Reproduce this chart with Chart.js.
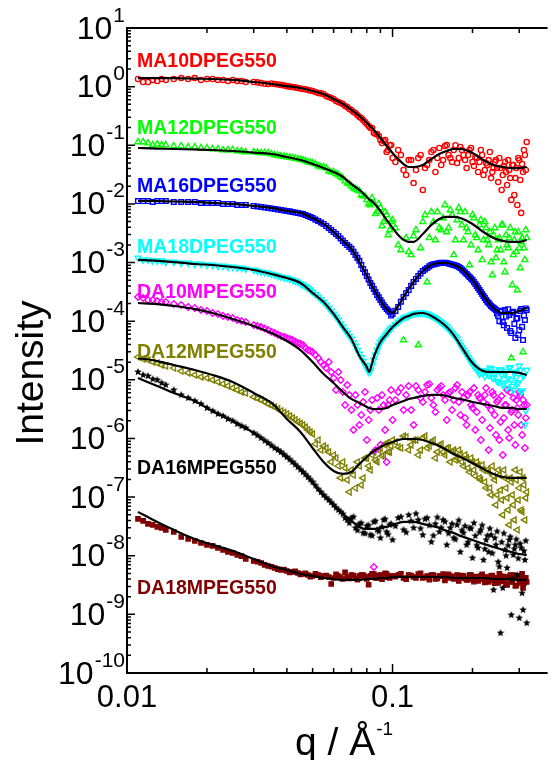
<!DOCTYPE html>
<html>
<head>
<meta charset="utf-8">
<script src="https://cdn.jsdelivr.net/npm/chart.js@4.4.0/dist/chart.umd.min.js"></script>
<style>
  html, body { margin: 0; padding: 0; background: #fff; overflow: hidden; }
  canvas { display: block; }
</style>
</head>
<body>
<canvas id="saxs" width="551" height="760"></canvas>
<script>
// q of the measured points (1/A), first pass
let qData = [0.011, 0.0115, 0.012, 0.0125, 0.013, 0.0135, 0.014, 0.015, 0.016, 0.017, 0.018, 0.019, 0.020, 0.021, 0.022, 0.023, 0.024, 0.025, 0.026, 0.027, 0.028, 0.030, 0.032, 0.034, 0.036, 0.038, 0.040, 0.042, 0.044, 0.046, 0.048, 0.050,
  0.0525, 0.055, 0.0575, 0.060, 0.0625, 0.065, 0.0675, 0.070, 0.0725, 0.075, 0.0775, 0.080, 0.0825, 0.085, 0.0875, 0.090, 0.0925, 0.095, 0.0975, 0.100,
  0.105, 0.110, 0.115, 0.120, 0.125, 0.130, 0.135, 0.140, 0.145, 0.150, 0.155, 0.160, 0.165, 0.170, 0.175, 0.180, 0.185, 0.190, 0.195, 0.200, 0.205, 0.210,
  0.215, 0.220, 0.225, 0.230, 0.235, 0.240, 0.245, 0.250, 0.255, 0.260, 0.265, 0.270, 0.275, 0.280, 0.285, 0.290, 0.295, 0.300, 0.305, 0.310, 0.315, 0.320];

// q of the points in between (dense part of the curves)
let qData2 = [0.031, 0.033, 0.035, 0.037, 0.039, 0.041, 0.043, 0.045, 0.047, 0.049,
  0.05125, 0.05375, 0.05625, 0.05875, 0.06125, 0.06375, 0.06625, 0.06875, 0.07125, 0.07375, 0.07625, 0.07875, 0.08125, 0.08375, 0.08625, 0.08875, 0.09125, 0.09375, 0.09625, 0.09875,
  0.1025, 0.1075, 0.1125, 0.1175, 0.1225, 0.1275, 0.1325, 0.1375, 0.1425, 0.1475, 0.1525, 0.1575, 0.1625, 0.1675, 0.1725, 0.1775, 0.1825, 0.1875, 0.1925, 0.1975, 0.2025, 0.2075,
  0.2125, 0.2175, 0.2225, 0.2275, 0.2325, 0.2375, 0.2425, 0.2475, 0.2525, 0.2575, 0.2625, 0.2675, 0.2725, 0.2775, 0.2825, 0.2875, 0.2925, 0.2975, 0.3025, 0.3075, 0.3125, 0.3175];

// q of the fitted curves
let qFit = [0.011, 0.013, 0.015, 0.018, 0.021, 0.025, 0.030, 0.035, 0.040, 0.045, 0.050, 0.055, 0.060, 0.065, 0.070, 0.075, 0.080, 0.0815, 0.085, 0.090,
  0.095, 0.100, 0.105, 0.110, 0.115, 0.120, 0.130, 0.140, 0.150, 0.160, 0.170, 0.180, 0.200, 0.220, 0.240, 0.260, 0.280, 0.300, 0.320];

let seriesNames = ['MA10DPEG550', 'MA12DPEG550', 'MA16DPEG550', 'MA18DPEG550', 'DA10MPEG550', 'DA12MPEG550', 'DA16MPEG550', 'DA18MPEG550'];

// measured intensities on qData
let ma10Data = [1.35, 1.20, 1.20, 1.30, 1.25, 1.35, 1.30, 1.35, 1.40, 1.35, 1.40, 1.30, 1.35, 1.35, 1.30, 1.30, 1.25, 1.30, 1.25, 1.25, 1.20, 1.20, 1.15, 1.11, 1.11, 1.07, 1.02, 0.986, 0.948, 0.912, 0.877, 0.843,
  0.780, 0.749, 0.665, 0.616, 0.548, 0.506, 0.450, 0.400, 0.355, 0.304, 0.270, 0.231, 0.197, 0.162, 0.156, 0.123, 0.118, 0.0768, 0.101, 0.0607,
  0.0830, 0.0379, 0.0560, 0.0227, 0.0607, 0.0173, 0.0461, 0.0768, 0.0350, 0.0898, 0.0560, 0.101, 0.0607, 0.0830, 0.0498, 0.0934, 0.0683, 0.0409, 0.0830, 0.0518, 0.0631, 0.0350,
  0.0830, 0.0311, 0.0498, 0.0560, 0.0276, 0.0409, 0.0560, 0.0236, 0.0409, 0.0311, 0.0518, 0.0210, 0.0379, 0.0117, 0.0461, 0.0276, 0.00960, 0.0560, 0.00702, 0.0350, 0.0683, 0.114];
let ma12Data = [0.114, 0.114, 0.109, 0.101, 0.105, 0.101, 0.101, 0.0971, 0.0971, 0.0934, 0.0934, 0.0898, 0.0898, 0.0863, 0.0863, 0.0830, 0.0830, 0.0830, 0.0798, 0.0798, 0.0768, 0.0768, 0.0739, 0.0739, 0.0683, 0.0656, 0.0631, 0.0607, 0.0583, 0.0560, 0.0518, 0.0498,
  0.0443, 0.0426, 0.0364, 0.0350, 0.0311, 0.0276, 0.0227, 0.0202, 0.0180, 0.0166, 0.0136, 0.0117, 0.00960, 0.0104, 0.00730, 0.00853, 0.00493, 0.00648, 0.00360, 0.00532,
  0.00199, 4.77e-5, 0.00152, 0.00284, 3.92e-5, 0.00493, 4.66e-4, 0.00730, 0.00243, 0.00389, 0.00576, 0.00332, 0.00787, 0.00135, 0.00532, 0.00730, 0.00243, 0.00389, 9.09e-4, 0.00648, 0.00295, 0.00164,
  0.00532, 0.00243, 0.00389, 0.00199, 0.00102, 0.00295, 0.00120, 0.00243, 0.00164, 0.00438, 6.90e-4, 0.00199, 0.00263, 2.35e-5, 0.00135, 0.00332, 3.40e-4, 0.00177, 0.00225, 2.98e-5, 0.00111, 0.00263];
let ma16Data = [0.0112, 0.0112, 0.0112, 0.0108, 0.0112, 0.0112, 0.0112, 0.0108, 0.0108, 0.0108, 0.0108, 0.0104, 0.0104, 0.0104, 0.0104, 0.00998, 0.00998, 0.00998, 0.00960, 0.00960, 0.00960, 0.00923, 0.00888, 0.00853, 0.00821, 0.00787, 0.00759, 0.00730, 0.00702, 0.00675, 0.00623, 0.00576,
  0.00512, 0.00455, 0.00389, 0.00332, 0.00284, 0.00234, 0.00199, 0.00171, 0.00135, 0.00107, 7.77e-4, 5.90e-4, 4.48e-4, 3.54e-4, 2.80e-4, 2.30e-4, 1.89e-4, 1.61e-4, 1.44e-4, 1.33e-4,
  1.75e-4, 2.59e-4, 3.40e-4, 4.66e-4, 5.90e-4, 7.18e-4, 8.07e-4, 9.09e-4, 9.44e-4, 9.83e-4, 9.83e-4, 9.83e-4, 9.44e-4, 9.09e-4, 8.72e-4, 8.07e-4, 7.18e-4, 6.38e-4, 5.68e-4, 5.04e-4, 4.31e-4, 3.68e-4,
  3.15e-4, 2.69e-4, 2.30e-4, 2.04e-4, 1.82e-4, 1.68e-4, 1.55e-4, 1.23e-4, 1.44e-4, 9.67e-5, 1.55e-4, 7.66e-5, 1.28e-4, 6.28e-5, 1.44e-4, 5.17e-5, 1.13e-4, 7.06e-5, 1.61e-4, 4.77e-5, 1.05e-4, 1.55e-4];
let ma18Data = [1.20e-3, 1.11e-3, 1.11e-3, 1.07e-3, 1.07e-3, 1.07e-3, 1.02e-3, 1.02e-3, 9.83e-4, 9.83e-4, 9.44e-4, 9.44e-4, 9.09e-4, 9.09e-4, 8.72e-4, 8.72e-4, 8.40e-4, 8.40e-4, 8.07e-4, 8.07e-4, 7.77e-4, 7.46e-4, 6.90e-4, 6.64e-4, 6.14e-4, 5.68e-4, 5.45e-4, 5.04e-4, 4.66e-4, 4.14e-4, 3.68e-4, 3.15e-4,
  2.59e-4, 2.13e-4, 1.68e-4, 1.33e-4, 1.05e-4, 7.95e-5, 6.28e-5, 4.96e-5, 3.77e-5, 2.76e-5, 2.09e-5, 1.59e-5, 1.41e-5, 2.18e-5, 3.22e-5, 4.41e-5, 5.17e-5, 6.04e-5, 7.06e-5, 7.95e-5,
  9.67e-5, 1.13e-4, 1.23e-4, 1.33e-4, 1.38e-4, 1.38e-4, 1.33e-4, 1.23e-4, 1.13e-4, 1.01e-4, 8.97e-5, 7.95e-5, 6.79e-5, 5.80e-5, 4.96e-5, 3.92e-5, 3.22e-5, 2.65e-5, 2.18e-5, 1.86e-5, 1.59e-5, 1.41e-5,
  1.36e-5, 1.31e-5, 1.41e-5, 1.21e-5, 1.53e-5, 1.07e-5, 1.36e-5, 9.19e-6, 1.47e-5, 8.17e-6, 1.26e-5, 7.26e-6, 1.59e-5, 9.95e-6, 6.71e-6, 1.36e-5, 8.50e-6, 1.72e-5, 6.21e-6, 1.16e-5, 1.70e-6, 1.47e-5];
let da10Data = [2.59e-4, 2.49e-4, 2.30e-4, 2.30e-4, 2.21e-4, 2.13e-4, 2.13e-4, 1.96e-4, 1.89e-4, 1.75e-4, 1.68e-4, 1.55e-4, 1.49e-4, 1.38e-4, 1.33e-4, 1.23e-4, 1.18e-4, 1.13e-4, 1.05e-4, 1.01e-4, 9.67e-5, 8.62e-5, 7.95e-5, 7.06e-5, 6.28e-5, 5.58e-5, 5.17e-5, 4.77e-5, 4.24e-5, 3.92e-5, 3.22e-5, 2.98e-5,
  2.35e-5, 1.79e-5, 2.01e-5, 1.07e-5, 1.36e-5, 6.21e-6, 8.17e-6, 3.06e-6, 5.52e-6, 1.70e-6, 4.19e-6, 9.41e-7, 3.06e-6, 6.43e-9, 4.90e-6, 7.76e-7, 3.73e-6, 3.97e-7, 4.54e-6, 2.07e-6,
  6.21e-6, 3.06e-6, 7.86e-6, 1.70e-6, 6.71e-6, 4.19e-6, 8.17e-6, 4.90e-6, 2.83e-6, 7.26e-6, 5.52e-6, 2.07e-6, 6.21e-6, 4.54e-6, 8.17e-6, 2.52e-6, 4.90e-6, 1.70e-6, 6.21e-6, 3.31e-6, 1.40e-6, 5.52e-6,
  9.41e-7, 4.19e-6, 7.26e-6, 6.35e-7, 3.06e-6, 5.52e-6, 1.15e-6, 4.54e-6, 1.91e-6, 5.22e-7, 3.73e-6, 6.71e-6, 1.02e-6, 2.83e-6, 4.90e-6, 7.76e-7, 3.31e-6, 6.21e-6, 1.70e-6, 4.54e-6, 6.87e-7, 3.73e-6];
let da12Data = [2.45e-5, 2.26e-5, 2.18e-5, 2.01e-5, 1.93e-5, 1.79e-5, 1.72e-5, 1.59e-5, 1.41e-5, 1.31e-5, 1.21e-5, 1.12e-5, 1.07e-5, 9.95e-6, 9.19e-6, 8.50e-6, 7.86e-6, 7.26e-6, 6.71e-6, 6.21e-6, 5.97e-6, 5.10e-6, 4.54e-6, 3.87e-6, 3.45e-6, 2.94e-6, 2.62e-6, 2.24e-6, 1.91e-6, 1.70e-6, 1.40e-6, 1.19e-6,
  9.41e-7, 7.43e-7, 5.89e-7, 5.22e-7, 3.39e-7, 3.97e-7, 1.96e-7, 2.90e-7, 1.43e-7, 3.39e-7, 2.12e-7, 4.64e-7, 2.90e-7, 5.89e-7, 3.97e-7, 6.87e-7, 5.22e-7, 8.38e-7, 5.89e-7, 9.41e-7,
  7.15e-7, 1.10e-6, 6.35e-7, 9.41e-7, 5.22e-7, 1.02e-6, 6.87e-7, 8.70e-7, 4.64e-7, 7.76e-7, 5.89e-7, 6.87e-7, 3.97e-7, 6.35e-7, 4.64e-7, 5.43e-7, 3.39e-7, 4.64e-7, 2.68e-7, 3.97e-7, 2.29e-7, 3.53e-7,
  1.96e-7, 2.90e-7, 1.43e-7, 2.68e-7, 1.09e-7, 2.29e-7, 7.34e-8, 2.90e-7, 1.32e-7, 4.96e-8, 2.12e-7, 9.67e-8, 3.35e-8, 1.81e-7, 7.34e-8, 2.90e-7, 2.76e-8, 1.43e-7, 6.04e-8, 2.12e-7, 4.08e-8, 1.22e-7];
let da16Data = [1.36e-5, 1.21e-5, 1.16e-5, 1.03e-5, 9.95e-6, 8.84e-6, 8.17e-6, 6.71e-6, 5.52e-6, 4.90e-6, 4.36e-6, 3.87e-6, 3.31e-6, 2.94e-6, 2.62e-6, 2.42e-6, 2.15e-6, 1.99e-6, 1.77e-6, 1.63e-6, 1.51e-6, 1.24e-6, 1.02e-6, 8.38e-7, 6.87e-7, 5.89e-7, 4.83e-7, 3.97e-7, 3.26e-7, 2.68e-7, 2.20e-7, 1.81e-7,
  1.37e-7, 1.09e-7, 8.95e-8, 7.34e-8, 6.04e-8, 5.17e-8, 4.08e-8, 4.41e-8, 2.98e-8, 3.49e-8, 2.45e-8, 3.22e-8, 2.26e-8, 3.77e-8, 2.76e-8, 2.01e-8, 4.08e-8, 2.55e-8, 3.35e-8, 1.86e-8,
  4.41e-8, 2.76e-8, 4.96e-8, 2.98e-8, 4.08e-8, 2.26e-8, 4.41e-8, 1.72e-8, 3.49e-8, 2.55e-8, 4.08e-8, 1.53e-8, 2.98e-8, 2.01e-8, 3.35e-8, 1.16e-8, 2.45e-8, 1.53e-8, 2.98e-8, 9.16e-9, 2.18e-8, 1.36e-8,
  2.76e-8, 8.47e-9, 1.86e-8, 1.16e-8, 2.26e-8, 2.61e-9, 1.53e-8, 7.83e-9, 4.81e-10, 2.82e-9, 1.26e-8, 6.18e-9, 1.86e-8, 9.75e-10, 1.03e-8, 1.53e-8, 4.70e-9, 8.66e-10, 1.36e-8, 1.19e-9, 8.47e-9, 7.12e-10];
let da18Data = [4.24e-8, 3.92e-8, 3.49e-8, 3.35e-8, 3.10e-8, 2.98e-8, 2.76e-8, 2.55e-8, 2.09e-8, 1.93e-8, 1.79e-8, 1.65e-8, 1.53e-8, 1.47e-8, 1.36e-8, 1.26e-8, 1.16e-8, 1.12e-8, 1.03e-8, 9.86e-9, 8.80e-9, 8.14e-9, 7.52e-9, 6.69e-9, 6.18e-9, 5.72e-9, 5.50e-9, 5.29e-9, 5.08e-9, 4.88e-9, 4.70e-9, 4.52e-9,
  4.70e-9, 4.52e-9, 4.34e-9, 4.17e-9, 4.52e-9, 4.01e-9, 4.34e-9, 4.70e-9, 4.17e-9, 4.52e-9, 4.70e-9, 4.01e-9, 4.52e-9, 4.88e-9, 4.17e-9, 4.70e-9, 4.34e-9, 4.88e-9, 4.17e-9, 4.52e-9,
  4.70e-9, 4.17e-9, 4.70e-9, 4.34e-9, 4.88e-9, 4.17e-9, 4.52e-9, 4.70e-9, 4.01e-9, 4.52e-9, 4.88e-9, 4.17e-9, 4.52e-9, 4.01e-9, 4.70e-9, 4.17e-9, 4.52e-9, 3.86e-9, 4.70e-9, 4.01e-9, 4.34e-9, 3.71e-9,
  4.52e-9, 4.01e-9, 4.34e-9, 3.57e-9, 4.52e-9, 3.86e-9, 4.17e-9, 3.43e-9, 4.52e-9, 3.71e-9, 4.17e-9, 3.17e-9, 4.34e-9, 3.57e-9, 4.70e-9, 3.05e-9, 4.17e-9, 3.43e-9, 4.52e-9, 2.82e-9, 4.01e-9, 3.57e-9];

// measured intensities on qData2
let ma10Data2 = [1.18, 1.12, 1.13, 1.09, 1.05, 1.00, 0.970, 0.925, 0.900, 0.860,
  0.810, 0.766, 0.693, 0.641, 0.570, 0.527, 0.468, 0.416, 0.370, 0.329, 0.292, 0.250, 0.213, 0.197, 0.156, 0.144, 0.109, 0.123, 0.0830, 0.101,
  0.0518, 0.0683, 0.0311, 0.0560, 0.0379, 0.0683, 0.0409, 0.0560, 0.0830, 0.0607, 0.0461, 0.0971, 0.0683, 0.0518, 0.100, 0.0607, 0.0830, 0.0560, 0.0683, 0.0898, 0.0443, 0.0607,
  0.0518, 0.0683, 0.0379, 0.0461, 0.0768, 0.0350, 0.0518, 0.0409, 0.0607, 0.0173, 0.0443, 0.0350, 0.0560, 0.0276, 0.0461, 0.0142, 0.0409, 0.0607, 0.0256, 0.0479, 0.0830, 0.0379];
let ma12Data2 = [0.0755, 0.0745, 0.0710, 0.0670, 0.0645, 0.0620, 0.0595, 0.0570, 0.0540, 0.0505,
  0.0479, 0.0426, 0.0409, 0.0350, 0.0325, 0.0288, 0.0245, 0.0218, 0.0187, 0.0173, 0.0142, 0.0136, 0.0100, 0.0126, 0.00675, 0.0100, 0.00421, 0.00730, 0.00295, 0.00493,
  0.00389, 0.00164, 0.00263, 0.00135, 0.00360, 0.00177, 0.00648, 0.00263, 0.00493, 0.00730, 0.00360, 0.00960, 0.00389, 0.00648, 0.00243, 0.00853, 0.00438, 0.00730, 0.00332, 0.00199, 0.00576, 0.00263,
  0.00438, 0.00111, 0.00493, 0.00243, 0.00332, 6.14e-4, 0.00389, 0.00164, 0.00263, 0.00438, 0.00102, 0.00295, 0.00177, 0.00389, 4.14e-4, 0.00243, 0.00152, 0.00332, 8.07e-4, 0.00263, 0.00177, 0.00360];
let ma16Data2 = [0.00905, 0.00870, 0.00837, 0.00804, 0.00773, 0.00745, 0.00716, 0.00688, 0.00649, 0.00600,
  0.00540, 0.00483, 0.00420, 0.00360, 0.00307, 0.00258, 0.00216, 0.00185, 0.00152, 0.00120, 9.1e-4, 6.8e-4, 5.15e-4, 4.0e-4, 3.15e-4, 2.55e-4, 2.08e-4, 1.75e-4, 1.52e-4, 1.25e-4,
  1.50e-4, 2.15e-4, 3.0e-4, 4.0e-4, 5.25e-4, 6.5e-4, 7.6e-4, 8.6e-4, 9.3e-4, 9.65e-4, 9.9e-4, 9.9e-4, 9.65e-4, 9.25e-4, 8.9e-4, 8.4e-4, 7.6e-4, 6.75e-4, 6.0e-4, 5.35e-4, 4.65e-4, 4.0e-4,
  3.4e-4, 2.9e-4, 2.5e-4, 2.15e-4, 1.92e-4, 1.75e-4, 1.62e-4, 1.35e-4, 1.0e-4, 1.5e-4, 8.5e-5, 1.2e-4, 1.6e-4, 6.8e-5, 1.4e-4, 9.0e-5, 1.1e-4, 5.8e-5, 1.5e-4, 8.0e-5, 1.25e-4, 1.65e-4];
let ma18Data2 = [7.18e-4, 6.77e-4, 6.39e-4, 5.90e-4, 5.56e-4, 5.24e-4, 4.85e-4, 4.39e-4, 3.90e-4, 3.40e-4,
  2.85e-4, 2.35e-4, 1.90e-4, 1.50e-4, 1.18e-4, 9.1e-5, 7.0e-5, 5.6e-5, 4.3e-5, 3.2e-5, 2.4e-5, 1.78e-5, 1.35e-5, 1.75e-5, 2.65e-5, 3.8e-5, 4.8e-5, 5.6e-5, 6.5e-5, 7.5e-5,
  8.8e-5, 1.05e-4, 1.18e-4, 1.28e-4, 1.36e-4, 1.39e-4, 1.36e-4, 1.28e-4, 1.18e-4, 1.07e-4, 9.5e-5, 8.5e-5, 7.4e-5, 6.3e-5, 5.4e-5, 4.4e-5, 3.55e-5, 2.9e-5, 2.4e-5, 2.0e-5, 1.7e-5, 1.5e-5,
  1.25e-5, 1.45e-5, 1.15e-5, 1.38e-5, 1.6e-5, 1.1e-5, 1.3e-5, 9.5e-6, 1.5e-5, 1.2e-5, 8.8e-6, 1.4e-5, 1.05e-5, 1.62e-5, 7.8e-6, 1.3e-5, 1.1e-5, 9.0e-6, 1.45e-5, 6.5e-6, 1.2e-5, 3.0e-6];
let da10Data2 = [8.3e-5, 7.5e-5, 6.6e-5, 5.9e-5, 5.4e-5, 4.95e-5, 4.5e-5, 4.1e-5, 3.5e-5, 3.1e-5,
  2.65e-5, 2.01e-5, 1.59e-5, 1.36e-5, 6.71e-6, 9.95e-6, 3.73e-6, 5.52e-6, 1.40e-6, 3.73e-6, 2.52e-6, 6.21e-6, 2.07e-6, 4.54e-6, 6.35e-7, 3.06e-6, 5.52e-6, 1.40e-6, 3.73e-6, 6.71e-6,
  4.54e-6, 7.26e-6, 5.52e-6, 3.06e-6, 7.86e-6, 4.90e-6, 6.21e-6, 8.50e-6, 3.73e-6, 6.71e-6, 7.86e-6, 4.54e-6, 5.97e-6, 3.06e-6, 7.26e-6, 4.19e-6, 6.21e-6, 2.24e-6, 5.52e-6, 3.73e-6, 7.26e-6, 2.83e-6,
  4.90e-6, 2.07e-6, 5.52e-6, 3.73e-6, 1.51e-6, 6.21e-6, 2.52e-6, 4.19e-6, 9.41e-7, 5.30e-6, 2.24e-6, 3.73e-6, 1.40e-6, 6.21e-6, 3.06e-6, 1.70e-6, 4.54e-6, 2.52e-6, 5.52e-6, 1.15e-6, 3.73e-6, 2.24e-6];
let da12Data2 = [4.8e-6, 4.2e-6, 3.65e-6, 3.2e-6, 2.78e-6, 2.42e-6, 2.08e-6, 1.80e-6, 1.55e-6, 1.29e-6,
  8.04e-7, 6.35e-7, 6.87e-7, 3.97e-7, 4.64e-7, 2.12e-7, 3.13e-7, 1.22e-7, 2.38e-7, 3.97e-7, 1.61e-7, 4.64e-7, 3.39e-7, 5.22e-7, 4.29e-7, 6.35e-7, 5.02e-7, 7.76e-7, 5.89e-7, 7.43e-7,
  8.70e-7, 6.87e-7, 1.06e-6, 7.76e-7, 9.41e-7, 6.35e-7, 1.10e-6, 7.43e-7, 9.41e-7, 5.89e-7, 8.04e-7, 5.22e-7, 6.87e-7, 5.89e-7, 4.29e-7, 6.35e-7, 3.97e-7, 5.22e-7, 3.13e-7, 4.64e-7, 2.90e-7, 3.97e-7,
  2.12e-7, 3.53e-7, 1.81e-7, 2.90e-7, 1.43e-7, 3.39e-7, 1.96e-7, 1.09e-7, 2.38e-7, 8.95e-8, 2.90e-7, 1.43e-7, 6.04e-8, 2.12e-7, 1.09e-7, 4.08e-8, 1.96e-7, 8.95e-8, 2.68e-7, 5.60e-8, 1.61e-7, 9.67e-8];
let da16Data2 = [1.13e-6, 9.2e-7, 7.6e-7, 6.4e-7, 5.35e-7, 4.4e-7, 3.6e-7, 2.95e-7, 2.43e-7, 2.0e-7,
  1.58e-7, 1.22e-7, 9.8e-8, 8.1e-8, 6.6e-8, 5.6e-8, 4.4e-8, 3.6e-8, 4.6e-8, 2.7e-8, 3.6e-8, 2.4e-8, 3.3e-8, 2.2e-8, 3.9e-8, 2.6e-8, 3.1e-8, 4.2e-8, 2.3e-8, 3.5e-8,
  3.2e-8, 4.6e-8, 2.5e-8, 3.9e-8, 5.2e-8, 2.9e-8, 4.2e-8, 3.3e-8, 2.2e-8, 4.5e-8, 3.0e-8, 3.8e-8, 2.4e-8, 3.5e-8, 1.9e-8, 4.0e-8, 2.7e-8, 3.2e-8, 1.7e-8, 2.9e-8, 3.6e-8, 1.5e-8,
  2.5e-8, 3.3e-8, 1.3e-8, 2.2e-8, 2.9e-8, 1.1e-8, 2.0e-8, 2.6e-8, 6.5e-9, 1.7e-8, 2.4e-8, 1.0e-8, 1.5e-8, 2.1e-8, 4.0e-9, 1.3e-8, 1.9e-8, 9.0e-9, 1.6e-8, 2.3e-9, 1.2e-8, 1.8e-8];
let da18Data2 = [7.9e-9, 7.0e-9, 6.5e-9, 5.9e-9, 5.8e-9, 5.2e-9, 5.4e-9, 4.8e-9, 5.0e-9, 4.4e-9,
  4.9e-9, 4.3e-9, 4.6e-9, 3.3e-9, 4.8e-9, 4.3e-9, 5.2e-9, 4.1e-9, 4.6e-9, 3.9e-9, 4.7e-9, 4.4e-9, 3.2e-9, 4.9e-9, 4.2e-9, 4.6e-9, 4.0e-9, 5.0e-9, 4.3e-9, 4.5e-9,
  4.4e-9, 4.9e-9, 4.0e-9, 4.6e-9, 4.2e-9, 5.0e-9, 4.3e-9, 3.9e-9, 4.7e-9, 4.1e-9, 4.5e-9, 3.8e-9, 4.8e-9, 4.2e-9, 4.4e-9, 3.7e-9, 4.6e-9, 4.1e-9, 3.9e-9, 4.7e-9, 3.6e-9, 4.4e-9,
  4.0e-9, 4.8e-9, 3.5e-9, 4.3e-9, 3.9e-9, 4.6e-9, 3.4e-9, 4.2e-9, 4.9e-9, 3.7e-9, 4.4e-9, 3.3e-9, 4.1e-9, 4.7e-9, 3.6e-9, 4.3e-9, 3.1e-9, 4.5e-9, 3.8e-9, 4.9e-9, 3.4e-9, 4.2e-9];

// fitted curves (black lines) on qFit
let ma10Fit = [1.40, 1.40, 1.40, 1.37, 1.35, 1.30, 1.20, 1.11, 1.02, 0.948, 0.843, 0.749, 0.616, 0.506, 0.400, 0.316, 0.240, 0.222, 0.182, 0.133,
  0.0971, 0.0739, 0.0583, 0.0479, 0.0426, 0.0426, 0.0461, 0.0583, 0.0709, 0.0798, 0.0863, 0.0863, 0.0739, 0.0560, 0.0461, 0.0426, 0.0409, 0.0409, 0.0426];
let ma12Fit = [0.0898, 0.0880, 0.0863, 0.0847, 0.0830, 0.0798, 0.0752, 0.0709, 0.0631, 0.0560, 0.0479, 0.0409, 0.0350, 0.0288, 0.0218, 0.0173, 0.0131, 0.0121, 0.0104, 0.00759,
  0.00532, 0.00389, 0.00295, 0.00243, 0.00225, 0.00225, 0.00307, 0.00438, 0.00554, 0.00599, 0.00599, 0.00576, 0.00455, 0.00332, 0.00263, 0.00234, 0.00225, 0.00225, 0.00243];
let ma16Fit = [0.0112, 0.0112, 0.0110, 0.0108, 0.0104, 0.00998, 0.00923, 0.00853, 0.00759, 0.00702, 0.00576, 0.00455, 0.00332, 0.00234, 0.00171, 0.00102, 5.90e-4, 5.04e-4, 3.54e-4, 2.30e-4,
  1.61e-4, 1.38e-4, 1.82e-4, 2.59e-4, 3.54e-4, 4.66e-4, 7.18e-4, 9.09e-4, 9.83e-4, 9.83e-4, 9.09e-4, 8.07e-4, 5.04e-4, 2.69e-4, 1.68e-4, 1.38e-4, 1.38e-4, 1.49e-4, 1.68e-4];
let ma18Fit = [1.11e-3, 1.07e-3, 1.02e-3, 9.44e-4, 9.09e-4, 8.40e-4, 7.46e-4, 6.38e-4, 5.45e-4, 4.48e-4, 3.03e-4, 2.13e-4, 1.33e-4, 7.95e-5, 4.96e-5, 2.55e-5, 1.65e-5, 1.36e-5, 2.45e-5, 4.41e-5,
  6.04e-5, 7.95e-5, 9.67e-5, 1.13e-4, 1.23e-4, 1.33e-4, 1.38e-4, 1.23e-4, 1.01e-4, 7.95e-5, 5.80e-5, 3.92e-5, 1.93e-5, 1.41e-5, 1.36e-5, 1.36e-5, 1.36e-5, 1.31e-5, 1.21e-5];
let da10Fit = [2.04e-4, 1.96e-4, 1.82e-4, 1.61e-4, 1.38e-4, 1.09e-4, 8.27e-5, 6.28e-5, 4.59e-5, 3.22e-5, 2.01e-5, 1.26e-5, 8.84e-6, 6.21e-6, 4.72e-6, 4.03e-6, 3.45e-6, 3.31e-6, 3.18e-6, 3.18e-6,
  3.31e-6, 3.73e-6, 4.03e-6, 4.36e-6, 4.72e-6, 4.90e-6, 5.30e-6, 5.52e-6, 5.52e-6, 5.30e-6, 4.90e-6, 4.72e-6, 4.19e-6, 3.87e-6, 3.58e-6, 3.31e-6, 3.31e-6, 3.18e-6, 3.18e-6];
let da12Fit = [2.35e-5, 2.09e-5, 1.79e-5, 1.47e-5, 1.21e-5, 9.19e-6, 5.97e-6, 4.03e-6, 2.15e-6, 1.29e-6, 6.87e-7, 3.97e-7, 2.79e-7, 2.48e-7, 2.68e-7, 3.67e-7, 4.83e-7, 5.22e-7, 6.11e-7, 7.15e-7,
  8.04e-7, 8.70e-7, 9.41e-7, 9.79e-7, 9.79e-7, 9.79e-7, 9.41e-7, 8.38e-7, 7.43e-7, 6.35e-7, 5.43e-7, 4.83e-7, 3.81e-7, 3.01e-7, 2.48e-7, 2.20e-7, 2.12e-7, 2.12e-7, 2.12e-7];
let da16Fit = [1.07e-5, 7.86e-6, 5.97e-6, 4.36e-6, 2.94e-6, 1.99e-6, 1.24e-6, 7.43e-7, 4.64e-7, 2.90e-7, 1.74e-7, 1.04e-7, 7.34e-8, 5.17e-8, 3.92e-8, 3.10e-8, 2.86e-8, 2.86e-8, 2.86e-8, 2.98e-8,
  3.10e-8, 3.35e-8, 3.62e-8, 3.77e-8, 3.77e-8, 3.77e-8, 3.49e-8, 3.22e-8, 2.98e-8, 2.65e-8, 2.45e-8, 2.18e-8, 1.86e-8, 1.59e-8, 1.41e-8, 1.26e-8, 1.16e-8, 1.07e-8, 1.03e-8];
let da18Fit = [5.60e-8, 3.77e-8, 2.76e-8, 1.93e-8, 1.53e-8, 1.21e-8, 8.80e-9, 6.69e-9, 5.72e-9, 4.88e-9, 4.52e-9, 4.17e-9, 4.01e-9, 3.86e-9, 3.86e-9, 3.86e-9, 4.01e-9, 4.01e-9, 4.01e-9, 4.17e-9,
  4.17e-9, 4.34e-9, 4.34e-9, 4.34e-9, 4.34e-9, 4.34e-9, 4.34e-9, 4.34e-9, 4.34e-9, 4.34e-9, 4.17e-9, 4.17e-9, 4.17e-9, 4.17e-9, 4.01e-9, 4.01e-9, 4.01e-9, 3.86e-9, 3.86e-9];

// axis ticks
let yTickValues = [10, 1, 0.1, 1e-2, 1e-3, 1e-4, 1e-5, 1e-6, 1e-7, 1e-8, 1e-9, 1e-10];
let yTickExps = ['1', '0', '-1', '-2', '-3', '-4', '-5', '-6', '-7', '-8', '-9', '-10'];
let xTickValues = [0.01, 0.1];
let xTickLabels = ['0.01', '0.1'];

let allData = [ma10Data, ma12Data, ma16Data, ma18Data, da10Data, da12Data, da16Data, da18Data];
let allData2 = [ma10Data2, ma12Data2, ma16Data2, ma18Data2, da10Data2, da12Data2, da16Data2, da18Data2];
let allFits = [ma10Fit, ma12Fit, ma16Fit, ma18Fit, da10Fit, da12Fit, da16Fit, da18Fit];

let seriesColors = ['#ff0000', '#00ff00', '#0000ff', '#00ffff', '#ff00ff', '#808000', '#000000', '#800000'];
let labelY = [67, 134, 192, 253, 298, 358, 474, 594];
const FONT = '"Liberation Sans", Arial, Helvetica, sans-serif';

// small filled star for DA16
function makeStar(size, color) {
  let c = document.createElement('canvas');
  c.width = size;
  c.height = size;
  let g = c.getContext('2d');
  g.fillStyle = color;
  g.beginPath();
  for (let k = 0; k < 10; k++) {
    let r = k % 2 ? size * 0.22 : size / 2;
    let a = -Math.PI / 2 + k * Math.PI / 5;
    g.lineTo(size / 2 + r * Math.cos(a), size / 2 + r * Math.sin(a));
  }
  g.closePath();
  g.fill();
  return c;
}

let markerStyle = ['circle', 'triangle', 'rect', 'triangle', 'rectRot', 'triangle', makeStar(8, '#000'), 'rect'];
let markerRotation = [0, 0, 0, 180, 0, -90, 0, 0];
let markerRadius = [2.6, 3.5, 3.3, 3.5, 3.3, 3.5, 4, 3];
let markerFill = [false, false, false, false, false, false, true, true];

let datasets = [];
for (let i = 0; i < seriesNames.length; i++) {
  datasets.push({
    label: seriesNames[i] + ' fit',
    data: qFit.map((q, k) => ({ x: q, y: allFits[i][k] })),
    showLine: true,
    borderColor: '#000',
    borderWidth: 2.2,
    pointRadius: 0,
    cubicInterpolationMode: 'monotone',
    order: 0
  });
  let pts = qData.map((q, k) => ({ x: q, y: allData[i][k] }))
    .concat(qData2.map((q, k) => ({ x: q, y: allData2[i][k] })));
  datasets.push({
    label: seriesNames[i],
    data: pts,
    showLine: false,
    pointStyle: markerStyle[i],
    pointRotation: markerRotation[i],
    pointRadius: markerRadius[i],
    pointBorderWidth: 1.4,
    pointBorderColor: seriesColors[i],
    pointBackgroundColor: markerFill[i] ? seriesColors[i] : 'rgba(0,0,0,0)',
    order: 1
  });
}

function minorTicks(from, to) {
  let out = [];
  for (let d = from; d < to; d *= 10) {
    for (let m = 2; m <= 9; m++) out.push(m * d);
  }
  return out;
}

// frame, inward ticks, tick labels, titles and sample names
const decorations = {
  id: 'decorations',
  afterDraw(chart) {
    let ctx = chart.ctx;
    let a = chart.chartArea;
    let xs = chart.scales.x;
    let ys = chart.scales.y;
    ctx.save();
    ctx.strokeStyle = '#000';
    ctx.lineWidth = 2;
    ctx.beginPath();
    ctx.moveTo(a.right + 2, a.top);
    ctx.lineTo(a.left, a.top);
    ctx.lineTo(a.left, a.bottom);
    ctx.lineTo(a.right + 2, a.bottom);
    ctx.stroke();

    ctx.lineWidth = 1.5;
    ctx.beginPath();
    yTickValues.forEach(v => {
      let py = ys.getPixelForValue(v);
      ctx.moveTo(a.left, py);
      ctx.lineTo(a.left + 8, py);
    });
    minorTicks(1e-10, 10).forEach(v => {
      let py = ys.getPixelForValue(v);
      ctx.moveTo(a.left, py);
      ctx.lineTo(a.left + 4, py);
    });
    xTickValues.forEach(v => {
      let px = xs.getPixelForValue(v);
      ctx.moveTo(px, a.bottom);
      ctx.lineTo(px, a.bottom - 9);
      ctx.moveTo(px, a.top);
      ctx.lineTo(px, a.top + 9);
    });
    minorTicks(0.01, 1).forEach(v => {
      if (v > xs.max) return;
      let px = xs.getPixelForValue(v);
      ctx.moveTo(px, a.bottom);
      ctx.lineTo(px, a.bottom - 5);
      ctx.moveTo(px, a.top);
      ctx.lineTo(px, a.top + 5);
    });
    ctx.stroke();

    // y tick labels: 10 with exponent
    ctx.fillStyle = '#000';
    ctx.textBaseline = 'alphabetic';
    ctx.textAlign = 'right';
    yTickValues.forEach((v, i) => {
      let py = ys.getPixelForValue(v);
      ctx.font = '21px ' + FONT;
      let w = ctx.measureText(yTickExps[i]).width;
      ctx.fillText(yTickExps[i], 125, py - 6.5);
      ctx.font = '32px ' + FONT;
      ctx.fillText('10', 125 - w - 1, py + 10.5);
    });

    // x tick labels
    ctx.textAlign = 'center';
    ctx.font = '31px ' + FONT;
    xTickValues.forEach((v, i) => {
      ctx.fillText(xTickLabels[i], xs.getPixelForValue(v), a.bottom + 34);
    });

    // axis titles
    ctx.textAlign = 'left';
    ctx.font = '39px ' + FONT;
    ctx.fillText('q / \u00c5', 295, 755);
    let tw = ctx.measureText('q / \u00c5').width;
    ctx.font = '19px ' + FONT;
    ctx.fillText('-1', 295 + tw + 1, 735);

    ctx.save();
    ctx.translate(43, 373);
    ctx.rotate(-Math.PI / 2);
    ctx.textAlign = 'center';
    ctx.font = '39px ' + FONT;
    ctx.fillText('Intensity', 0, 0);
    ctx.restore();

    // sample names
    ctx.textAlign = 'left';
    ctx.font = 'bold 19.5px ' + FONT;
    seriesNames.forEach((name, i) => {
      ctx.fillStyle = seriesColors[i];
      ctx.fillText(name, 137, labelY[i]);
    });
    ctx.restore();
  }
};

new Chart(document.getElementById('saxs'), {
  type: 'scatter',
  data: { datasets: datasets },
  options: {
    responsive: false,
    animation: false,
    devicePixelRatio: 1,
    events: [],
    layout: { padding: { left: 127, top: 28, right: 0, bottom: 87 } },
    plugins: { legend: { display: false }, tooltip: { enabled: false } },
    scales: {
      x: { type: 'logarithmic', display: false, min: 0.01, max: 0.377, bounds: 'data' },
      y: { type: 'logarithmic', display: false, min: 1e-10, max: 10, bounds: 'data' }
    }
  },
  plugins: [decorations]
});
</script>
</body>
</html>
